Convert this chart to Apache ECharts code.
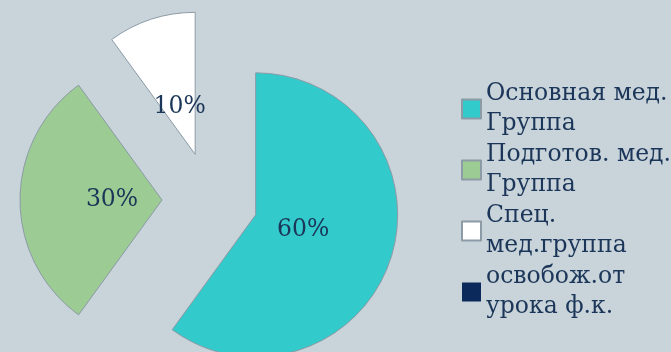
<!DOCTYPE html>
<html>
<head>
<meta charset="utf-8">
<script src="https://cdn.jsdelivr.net/npm/echarts@6/dist/echarts.min.js"></script>
<style>
  html, body { margin: 0; padding: 0; background: #c8d3da; }
  #chart { width: 671px; height: 352px; }
</style>
</head>
<body>
<div id="chart"></div>
<script>
// Health groups of pupils, share in percent
const categories = [
  'Основная мед.\nГруппа',
  'Подготов. мед.\nГруппа',
  'Спец.\nмед.группа',
  'освобож.от\nурока ф.к.'
];
const shares = [60, 30, 10, 0];
const sliceColors = ['#32cacb', '#9dcb94', '#ffffff', '#0b2a5b'];

const textColor = '#1b3658';
const serif = '"DejaVu Serif", "Liberation Serif", serif';

const pieCenter = [210, 200];
const explode = 48;

const sliceData = categories.map((name, i) => ({
  name: name,
  value: shares[i],
  selected: true,
  itemStyle: {
    color: sliceColors[i],
    borderColor: '#8c9ba6',
    borderWidth: shares[i] > 0 ? 1 : 0
  }
}));

// Transparent twin pie that only carries the percentage labels,
// placed a third of the radius out from each slice's tip.
const labelData = categories.map((name, i) => ({
  name: name,
  value: shares[i],
  selected: true,
  itemStyle: { color: 'rgba(0,0,0,0)', borderWidth: 0 },
  label: { show: shares[i] > 0 }
}));

const chart = echarts.init(document.getElementById('chart'), null, { renderer: 'canvas' });
chart.setOption({
  backgroundColor: '#c8d3da',
  animation: false,
  legend: {
    orient: 'vertical',
    left: 456,
    top: 74,
    itemWidth: 19,
    itemHeight: 19,
    itemGap: 1,
    icon: 'rect',
    selectedMode: false,
    textStyle: {
      fontFamily: serif,
      fontSize: 23.5,
      lineHeight: 30,
      color: textColor
    },
    data: categories
  },
  series: [
    {
      type: 'pie',
      center: pieCenter,
      radius: 142,
      startAngle: 90,
      clockwise: true,
      selectedMode: 'multiple',
      selectedOffset: explode,
      silent: true,
      label: { show: false },
      labelLine: { show: false },
      data: sliceData
    },
    {
      type: 'pie',
      center: pieCenter,
      radius: 94,
      startAngle: 90,
      clockwise: true,
      selectedMode: 'multiple',
      selectedOffset: explode,
      silent: true,
      label: {
        position: 'inside',
        formatter: '{c}%',
        fontFamily: serif,
        fontSize: 23.5,
        color: textColor
      },
      labelLine: { show: false },
      data: labelData
    }
  ]
});
</script>
</body>
</html>
